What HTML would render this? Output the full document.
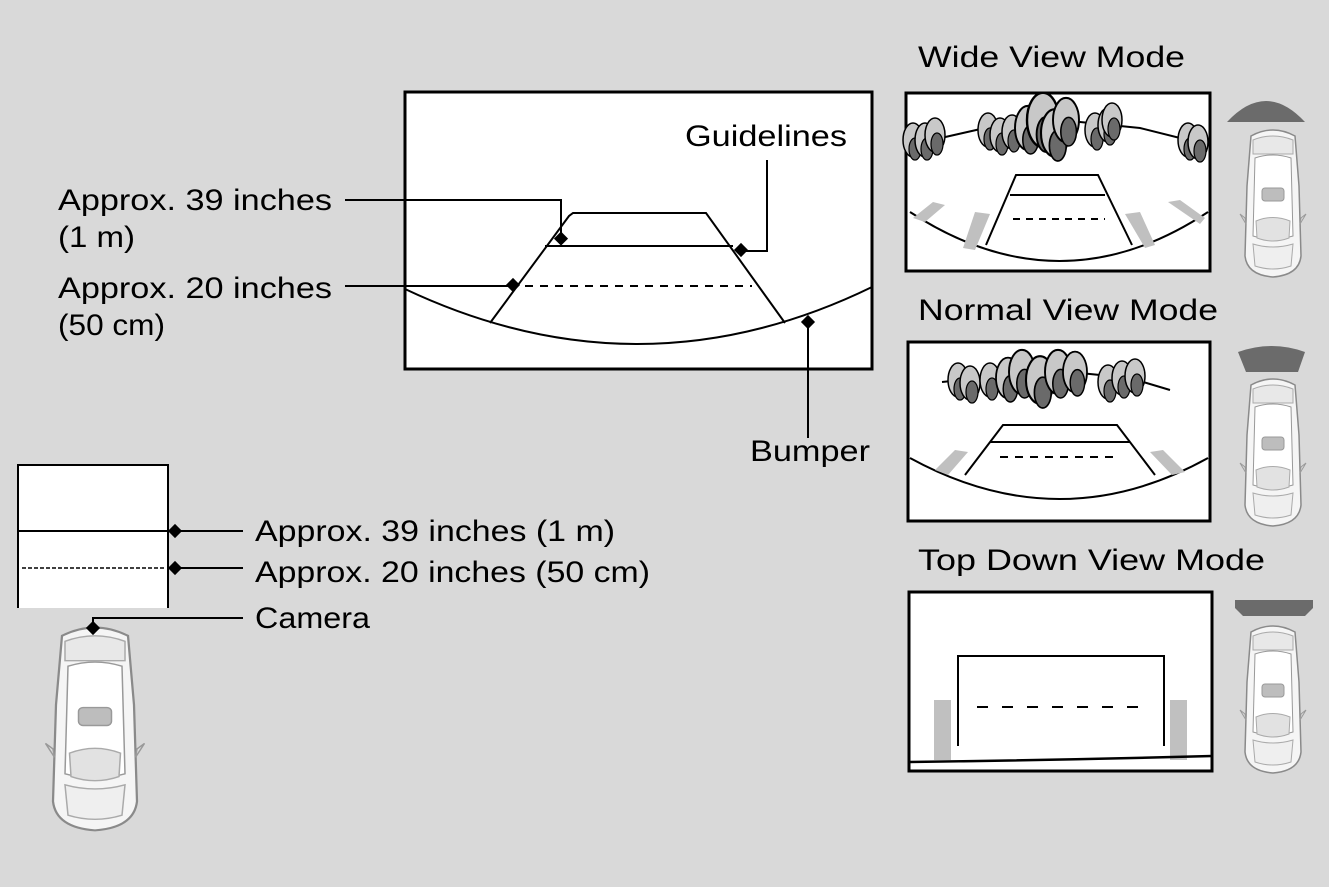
<!DOCTYPE html>
<html><head><meta charset="utf-8"><style>
html,body{margin:0;padding:0;background:#d9d9d9;}
svg{display:block}
text{font-family:"Liberation Sans",sans-serif;font-size:30px;fill:#000}
</style></head><body>
<svg width="1329" height="887" viewBox="0 0 1329 887" xmlns="http://www.w3.org/2000/svg">
<defs>
<g id="car">
<path d="M8,10 Q30,-2 52,10 L56,60 L58,130 Q56,149 30,151 Q4,149 2,130 L4,60 Z" fill="#f5f5f5" stroke="#8a8a8a" stroke-width="1.5"/>
<path d="M10,14 Q30,6 50,14 L50,28 L10,28 Z" fill="#e8e8e8" stroke="#aaa"/>
<path d="M12,32 Q30,26 48,32 L50,110 Q30,116 10,110 Z" fill="#fff" stroke="#999"/>
<rect x="19" y="62" width="22" height="13" rx="3" fill="#bdbdbd" stroke="#999"/>
<path d="M13,95 Q30,88 47,95 L46,112 Q30,118 14,112 Z" fill="#e2e2e2" stroke="#aaa"/>
<path d="M10,118 Q30,124 50,118 L48,140 Q30,146 12,140 Z" fill="#efefef" stroke="#aaa"/>
<path d="M2,92 L-3,88 L3,98 Z M58,92 L63,88 L57,98 Z" fill="#ddd" stroke="#999"/>
</g>
<g id="tree">
<ellipse cx="0" cy="0" rx="10" ry="17" fill="#c8c8c8" stroke="#000" stroke-width="1.5"/>
<ellipse cx="2" cy="9" rx="6" ry="11" fill="#6a6a6a" stroke="#000" stroke-width="1.2"/>
</g>
</defs>

<!-- main screen -->
<rect x="405" y="92" width="467" height="277" fill="#fff" stroke="#000" stroke-width="3"/>
<path d="M405,289 Q640,400 872,287" fill="none" stroke="#000" stroke-width="2"/>
<path d="M490,323 L569,216 L573,213 L706,213 L785,323" fill="none" stroke="#000" stroke-width="2"/>
<line x1="545" y1="246" x2="733" y2="246" stroke="#000" stroke-width="2"/>
<line x1="525" y1="286" x2="752" y2="286" stroke="#000" stroke-width="2" stroke-dasharray="8,7"/>
<polyline points="345,200 561,200 561,240" fill="none" stroke="#000" stroke-width="2"/>
<polyline points="767,160 767,251 741,251" fill="none" stroke="#000" stroke-width="2"/>
<line x1="345" y1="286" x2="513" y2="286" stroke="#000" stroke-width="2"/>
<line x1="808" y1="322" x2="808" y2="438" stroke="#000" stroke-width="2"/>
<g fill="#000">
<rect x="555" y="234" width="10" height="10" transform="rotate(45 561 240)"/>
<rect x="736" y="245" width="10" height="10" transform="rotate(45 741 250)"/>
<rect x="508" y="280" width="10" height="10" transform="rotate(45 513 285)"/>
<rect x="803" y="317" width="10" height="10" transform="rotate(45 808 322)"/>
</g>
<text x="58" y="210" textLength="274" lengthAdjust="spacingAndGlyphs">Approx. 39 inches</text>
<text x="58" y="247" textLength="77" lengthAdjust="spacingAndGlyphs">(1 m)</text>
<text x="58" y="298" textLength="274" lengthAdjust="spacingAndGlyphs">Approx. 20 inches</text>
<text x="58" y="335" textLength="107" lengthAdjust="spacingAndGlyphs">(50 cm)</text>
<text x="685" y="146" textLength="162" lengthAdjust="spacingAndGlyphs">Guidelines</text>
<text x="750" y="461" textLength="120" lengthAdjust="spacingAndGlyphs">Bumper</text>

<!-- left diagram -->
<path d="M18,608 L18,465 L168,465 L168,608" fill="#fff" stroke="#000" stroke-width="2"/>
<line x1="18" y1="531" x2="168" y2="531" stroke="#000" stroke-width="2"/>
<line x1="22" y1="568" x2="164" y2="568" stroke="#000" stroke-width="1.5" stroke-dasharray="4,2"/>
<line x1="175" y1="531" x2="243" y2="531" stroke="#000" stroke-width="2"/>
<line x1="175" y1="568" x2="243" y2="568" stroke="#000" stroke-width="2"/>
<polyline points="93,628 93,618 243,618" fill="none" stroke="#000" stroke-width="2"/>
<g fill="#000">
<rect x="170" y="526" width="10" height="10" transform="rotate(45 175 531)"/>
<rect x="170" y="563" width="10" height="10" transform="rotate(45 175 568)"/>
</g>
<text x="255" y="541" textLength="360" lengthAdjust="spacingAndGlyphs">Approx. 39 inches (1 m)</text>
<text x="255" y="582" textLength="395" lengthAdjust="spacingAndGlyphs">Approx. 20 inches (50 cm)</text>
<text x="255" y="628" textLength="115" lengthAdjust="spacingAndGlyphs">Camera</text>
<use href="#car" transform="translate(50,622) scale(1.5,1.38)"/>
<rect x="88" y="623" width="10" height="10" transform="rotate(45 93 628)" fill="#000"/>

<!-- right titles -->
<text x="918" y="67" textLength="267" lengthAdjust="spacingAndGlyphs">Wide View Mode</text>
<text x="918" y="320" textLength="300" lengthAdjust="spacingAndGlyphs">Normal View Mode</text>
<text x="918" y="570" textLength="347" lengthAdjust="spacingAndGlyphs">Top Down View Mode</text>

<!-- wide view -->
<rect x="906" y="93" width="304" height="178" fill="#fff" stroke="#000" stroke-width="3"/>
<path d="M910,145 L985,128 L1060,120 L1140,128 L1208,145" fill="none" stroke="#000" stroke-width="2"/>
<g>
<use href="#tree" transform="translate(913,140)"/><use href="#tree" transform="translate(925,140)"/><use href="#tree" transform="translate(935,135)"/>
<use href="#tree" transform="translate(988,130)"/><use href="#tree" transform="translate(1000,135)"/><use href="#tree" transform="translate(1012,132)"/>
<use href="#tree" transform="translate(1028,128) scale(1.3)"/><use href="#tree" transform="translate(1043,120) scale(1.6)"/><use href="#tree" transform="translate(1055,133) scale(1.4)"/><use href="#tree" transform="translate(1066,120) scale(1.3)"/>
<use href="#tree" transform="translate(1095,130)"/><use href="#tree" transform="translate(1108,125)"/><use href="#tree" transform="translate(1112,120)"/>
<use href="#tree" transform="translate(1188,140)"/><use href="#tree" transform="translate(1198,142)"/>
</g>
<path d="M910,212 Q1060,310 1208,212" fill="none" stroke="#000" stroke-width="2"/>
<path d="M913,218 L933,202 L945,205 L925,222 Z M963,248 L975,212 L990,214 L975,250 Z M1125,214 L1140,212 L1155,245 L1145,248 Z M1168,202 L1180,200 L1205,218 L1200,224 Z" fill="#c0c0c0"/>
<path d="M986,245 L1016,175 L1098,175 L1132,245" fill="none" stroke="#000" stroke-width="2"/>
<line x1="1010" y1="195" x2="1105" y2="195" stroke="#000" stroke-width="2"/>
<line x1="1013" y1="219" x2="1105" y2="219" stroke="#000" stroke-width="2" stroke-dasharray="7,6"/>
<path d="M1227,122 Q1266,80 1305,122 Z" fill="#6b6b6b"/>
<use href="#car" transform="translate(1243,126)"/>

<!-- normal view -->
<rect x="908" y="342" width="302" height="179" fill="#fff" stroke="#000" stroke-width="3"/>
<path d="M942,382 L1010,375 L1070,372 L1130,378 L1170,390" fill="none" stroke="#000" stroke-width="2"/>
<g>
<use href="#tree" transform="translate(958,380)"/><use href="#tree" transform="translate(970,383)"/><use href="#tree" transform="translate(990,380)"/>
<use href="#tree" transform="translate(1008,378) scale(1.2)"/><use href="#tree" transform="translate(1022,372) scale(1.3)"/><use href="#tree" transform="translate(1040,380) scale(1.4)"/><use href="#tree" transform="translate(1058,372) scale(1.3)"/><use href="#tree" transform="translate(1075,372) scale(1.2)"/>
<use href="#tree" transform="translate(1108,382)"/><use href="#tree" transform="translate(1122,378)"/><use href="#tree" transform="translate(1135,376)"/>
</g>
<path d="M910,458 Q1060,540 1208,458" fill="none" stroke="#000" stroke-width="2"/>
<path d="M935,470 L955,450 L968,452 L948,475 Z M1150,452 L1163,450 L1185,472 L1172,475 Z" fill="#c0c0c0"/>
<path d="M965,475 L1003,425 L1117,425 L1155,475" fill="none" stroke="#000" stroke-width="2"/>
<line x1="990" y1="442" x2="1130" y2="442" stroke="#000" stroke-width="2"/>
<line x1="1000" y1="457" x2="1120" y2="457" stroke="#000" stroke-width="2" stroke-dasharray="8,7"/>
<path d="M1238,352 Q1272,340 1305,352 L1298,372 L1246,372 Z" fill="#6b6b6b"/>
<use href="#car" transform="translate(1243,375)"/>

<!-- top down -->
<rect x="909" y="592" width="303" height="179" fill="#fff" stroke="#000" stroke-width="3"/>
<rect x="934" y="700" width="17" height="60" fill="#c0c0c0"/>
<rect x="1170" y="700" width="17" height="60" fill="#c0c0c0"/>
<path d="M958,746 L958,656 L1164,656 L1164,746" fill="none" stroke="#000" stroke-width="2"/>
<line x1="977" y1="707" x2="1145" y2="707" stroke="#000" stroke-width="2" stroke-dasharray="11,14"/>
<path d="M909,762 Q1060,760 1212,756" fill="none" stroke="#000" stroke-width="2.5"/>
<path d="M1235,600 L1313,600 L1313,608 L1305,616 L1243,616 L1235,608 Z" fill="#6b6b6b"/>
<use href="#car" transform="translate(1243,622)"/>
</svg>
</body></html>
